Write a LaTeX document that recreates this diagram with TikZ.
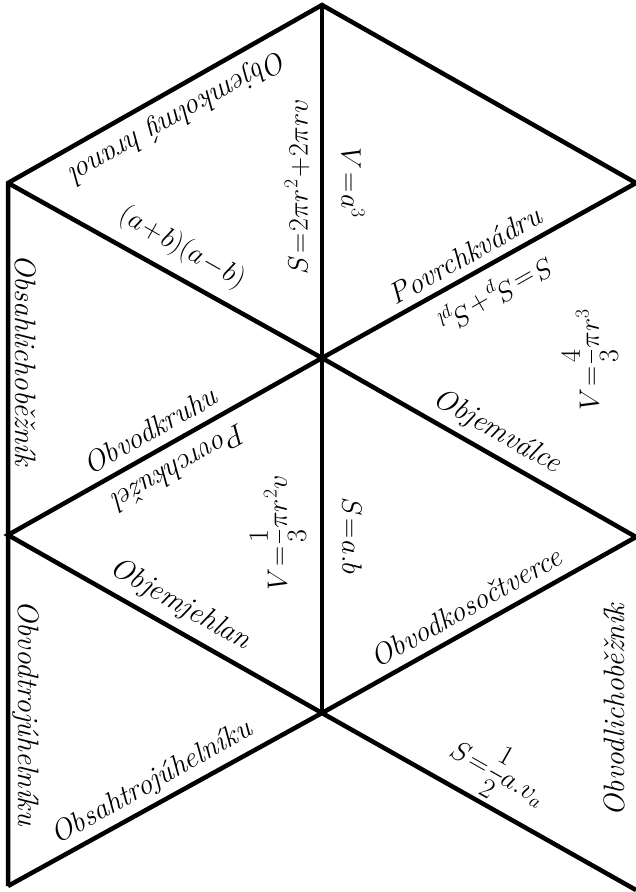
\RequirePackage{fix-cm}
\documentclass[tikz,border=0pt]{standalone}
\usepackage{amsmath,amssymb}
\usepackage{tikz}
\medmuskip=1mu\relax
\thickmuskip=1.5mu\relax

\begin{document}
\begin{tikzpicture}[
    x=1pt, y=-1pt,
    edge/.style={line width=4.5pt, line join=miter},
    lbl/.style={font=\fontsize{29.5}{32}\selectfont\itshape, inner sep=0pt},
    frm/.style={font=\fontsize{28}{32}\selectfont, inner sep=0pt}
]

% Page
\path[use as bounding box, fill=white] (0,0) rectangle (636,892);

% Corners
\coordinate (top) at (322,5);
\coordinate (l1) at (8,183);
\coordinate (l2) at (8,535);
\coordinate (l3) at (8,886);
\coordinate (c1) at (322,358);
\coordinate (c2) at (322,713);
\coordinate (r1) at (636,183);
\coordinate (r2) at (636,537);
\coordinate (r3) at (636,890);

% Edges
\draw[edge] (l3) -- (l1) -- (top) -- (r1) -- (c1) -- (r2) -- (c2) -- (r3);
\draw[edge] (l1) -- (c1) -- (l2) -- (c2) -- (l3);
\draw[edge] (top) -- (c2);

% Top left triangle
\node[lbl, rotate=209.5] (hranol) at (178,116) {Objemkolmý hranol};
\node[frm, rotate=-29.5] (rozdil) at (182,248) {$(a+b)(a-b)$};
\node[frm, rotate=90] (valecs) at (297,187) {$S=2\pi r^2+2\pi rv$};

% Top right triangle
\node[frm, rotate=-90] (krychlev) at (353,183) {$V=a^3$};
\node[lbl, rotate=29.5] (kvadr) at (465,255) {Povrchkvádru};

% Right triangle
\node[frm, rotate=209.5] (povrchs) at (495,293) {$S=S_p+S_{pl}$};
\node[frm, rotate=90] (koulev) at (590,360) {$V=\dfrac{4}{3}\pi r^3$};
\node[lbl, rotate=-29.5] (valec) at (497,432) {Objemválce};

% Middle right triangle
\node[frm, rotate=-90] (obdelniks) at (352,536) {$S=a.b$};
\node[lbl, rotate=29.5] (kosoctverec) at (466,607) {Obvodkosočtverce};

% Bottom right triangle
\node[frm, rotate=-29.5] (trojs) at (498,773) {$S=\dfrac{1}{2}a.v_a$};
\node[lbl, rotate=90] (lichoo) at (614,710) {Obvodlichoběžník};

% Left triangles
\node[lbl, rotate=-90] (lichos) at (26,360) {Obsahlichoběžník};
\node[lbl, rotate=29.5] (kruh) at (150,430) {Obvodkruhu};
\node[lbl, rotate=209.5] (kuzel) at (180,468) {Povrchkužel};
\node[frm, rotate=90] (kuzelv) at (278,533) {$V=\dfrac{1}{3}\pi r^2v$};
\node[lbl, rotate=-29.5] (jehlan) at (180,605) {Objemjehlan};
\node[lbl, rotate=-90] (trojo) at (26,713) {Obvodtrojúhelníku};
\node[lbl, rotate=29.5] (trojob) at (152,783) {Obsahtrojúhelníku};

\end{tikzpicture}
\end{document}
